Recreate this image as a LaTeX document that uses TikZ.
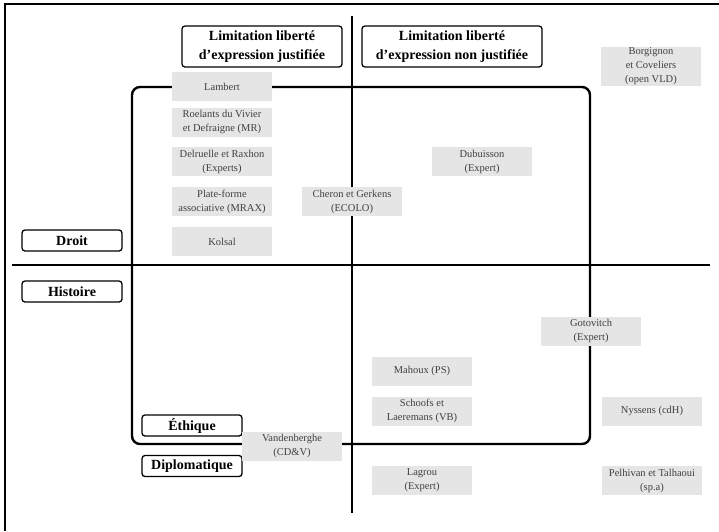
\documentclass[tikz,border=0pt]{standalone}
\usepackage{fontspec}
\setmainfont{Liberation Serif}
\begin{document}
\begin{tikzpicture}[x=1pt, y=-1pt]
        \tikzstyle{actor}=[fill=black!10, text=black!75, minimum width=100pt, minimum height=29pt, inner sep=0pt, align=center, font=\fontsize{10.5}{14}\selectfont];
        \tikzstyle{axe}=[draw, fill=white, rounded corners=3pt, line width=1.3pt, inner sep=0pt, align=center, font=\bfseries\fontsize{14}{18.5}\selectfont];
        \tikzstyle{theme}=[axe, minimum width=100pt, minimum height=21pt];

        \useasboundingbox (0,0) rectangle (719,531);

        % cadre
        \draw[line width=1.4pt] (5,531) -- (5,4) -- (719,4);

        % axes et zone
        \draw[line width=2pt] (352,16) -- (352,513);
        \draw[line width=2pt] (12,265) -- (710,265);
        \draw[line width=2.4pt, rounded corners=8pt] (132,87) rectangle (590,444);

        % positions
        \node[axe, minimum width=160pt, minimum height=41pt] (justif) at (262,46.5) {Limitation liberté\\d'expression justifiée};
        \node[axe, minimum width=180pt, minimum height=41pt] (nonjustif) at (452,46.5) {Limitation liberté\\d'expression non justifiée};
        \node[theme] (droit) at (72,240.5) {Droit};
        \node[theme] (histoire) at (72,291.5) {Histoire};
        \node[theme] (ethique) at (192,425.5) {Éthique};
        \node[theme] (diplo) at (192,466) {Diplomatique};

        % acteurs
        \node[actor] (lambert) at (222,86.5) {Lambert};
        \node[actor] (roelants) at (222,122) {Roelants du Vivier\\et Defraigne (MR)};
        \node[actor] (delruelle) at (222,161.5) {Delruelle et Raxhon\\(Experts)};
        \node[actor] (mrax) at (222,201.5) {Plate-forme\\associative (MRAX)};
        \node[actor] (kolsal) at (222,241.5) {Kolsal};
        \node[actor] (cheron) at (352,201.5) {Cheron et Gerkens\\(ECOLO)};
        \node[actor] (dubuisson) at (482,161.5) {Dubuisson\\(Expert)};
        \node[actor, minimum height=39pt] (borgignon) at (651,66.5) {Borgignon\\et Coveliers\\(open VLD)};
        \node[actor] (vandenberghe) at (292,446) {Vandenberghe\\(CD\&V)};
        \node[actor] (gotovitch) at (591,331) {Gotovitch\\(Expert)};
        \node[actor] (mahoux) at (422,371) {Mahoux (PS)};
        \node[actor] (schoofs) at (422,411) {Schoofs et\\Laeremans (VB)};
        \node[actor] (nyssens) at (652,411) {Nyssens (cdH)};
        \node[actor] (lagrou) at (422,480.5) {Lagrou\\(Expert)};
        \node[actor] (pelhivan) at (652,480.5) {Pelhivan et Talhaoui\\(sp.a)};
    \end{tikzpicture}
\end{document}
